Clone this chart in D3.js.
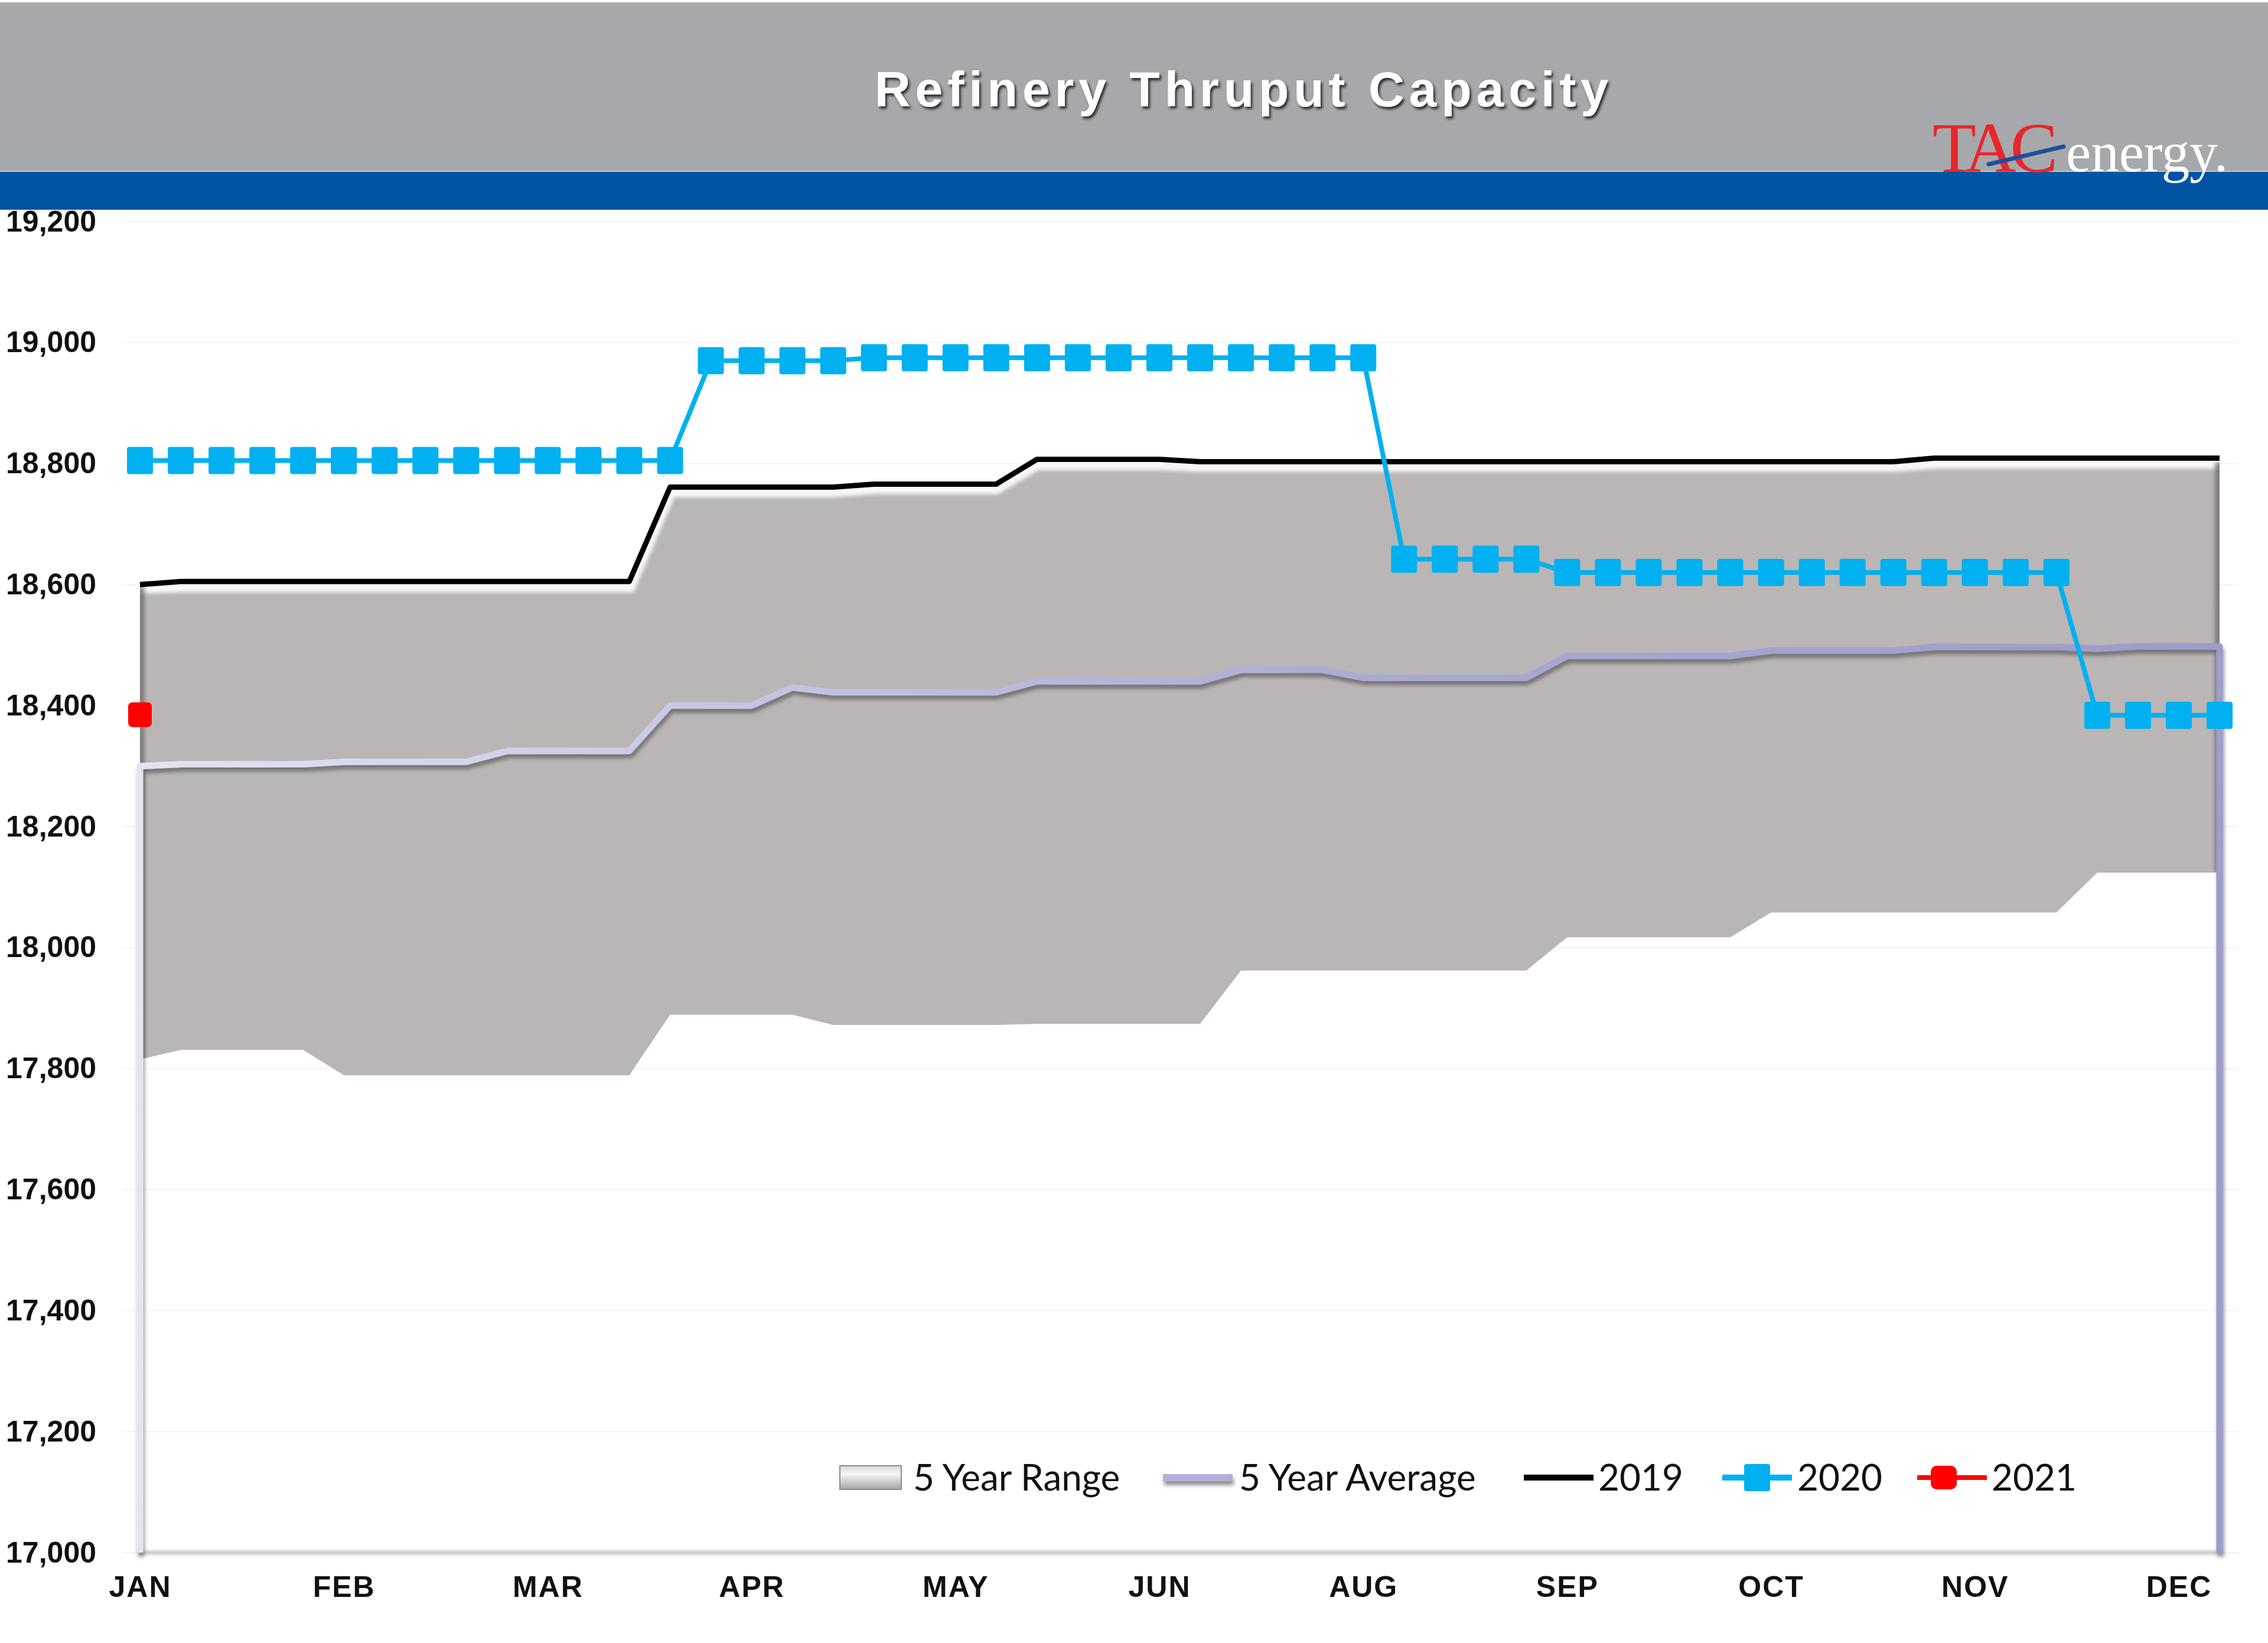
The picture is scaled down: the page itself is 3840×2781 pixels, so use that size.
<!DOCTYPE html>
<html><head><meta charset="utf-8">
<script src="https://cdn.jsdelivr.net/npm/d3@7"></script>
<style>html,body{margin:0;padding:0;background:#fff;} svg{display:block}</style>
</head><body>
<svg id="chart" width="3840" height="2781"></svg>
<script>
// ---------------- DATA ----------------
const weeks = [1,2,3,4,5,6,7,8,9,10,11,12,13,14,15,16,17,18,19,20,21,22,23,24,25,26,
               27,28,29,30,31,32,33,34,35,36,37,38,39,40,41,42,43,44,45,46,47,48,49,50,51,52];
const labelWeeks = [1,6,11,16,21,26,31,36,41,46,51];
const monthLabels = ["JAN","FEB","MAR","APR","MAY","JUN","AUG","SEP","OCT","NOV","DEC"];
const yTicks = [17000,17200,17400,17600,17800,18000,18200,18400,18600,18800,19000,19200];

const rangeLow = [17815,17831,17831,17831,17831,17789,17789,17789,17789,17789,17789,17789,17789,
                  17889,17889,17889,17889,17872,17872,17872,17872,17872,17874,17874,17874,17874,17874,
                  17962,17962,17962,17962,17962,17962,17962,17962,18017,18017,18017,18017,18017,
                  18058,18058,18058,18058,18058,18058,18058,18058,18124,18124,18124,18124];
const rangeHigh = [18596,18598,18598,18598,18598,18598,18598,18598,18598,18598,18598,18598,18598,
                   18755,18755,18755,18755,18755,18760,18760,18760,18760,18800,18800,18800,18800,
                   18797,18797,18797,18797,18797,18797,18797,18797,18797,18797,18797,18797,18797,18797,
                   18797,18797,18797,18797,18802,18802,18802,18802,18802,18802,18802,18802];
const avg5 = [18300,18303,18303,18303,18303,18307,18307,18307,18307,18325,18325,18325,18325,
              18400,18400,18400,18430,18422,18422,18422,18422,18422,18440,18440,18440,18440,18440,
              18459,18459,18459,18446,18446,18446,18446,18446,18482,18482,18482,18482,18482,
              18491,18491,18491,18491,18497,18497,18497,18497,18494,18498,18498,18498];
const series2019 = [18600,18605,18605,18605,18605,18605,18605,18605,18605,18605,18605,18605,18605,
                    18761,18761,18761,18761,18761,18766,18766,18766,18766,18807,18807,18807,18807,
                    18803,18803,18803,18803,18803,18803,18803,18803,18803,18803,18803,18803,18803,18803,
                    18803,18803,18803,18803,18809,18809,18809,18809,18809,18809,18809,18809];
const series2020 = [18805,18805,18805,18805,18805,18805,18805,18805,18805,18805,18805,18805,18805,18805,
                    18970,18970,18970,18970,18975,18975,18975,18975,18975,18975,18975,18975,18975,18975,
                    18975,18975,18975,18642,18642,18642,18642,18620,18620,18620,18620,18620,18620,18620,
                    18620,18620,18620,18620,18620,18620,18384,18384,18384,18384];
const series2021 = [18385];

const legendItems = ["5 Year Range","5 Year Average","2019","2020","2021"];

// ---------------- SETUP ----------------
const svg = d3.select("#chart");
const defs = svg.append("defs");
const x = d3.scalePoint().domain(weeks).range([237, 3758]);
const y = d3.scaleLinear().domain([17000, 19200]).range([2628, 375]);

function blur(id, sd){ defs.append("filter").attr("id",id).attr("filterUnits","userSpaceOnUse")
  .attr("x",0).attr("y",0).attr("width",3840).attr("height",2781)
  .append("feGaussianBlur").attr("stdDeviation",sd); }
blur("blur3",3); blur("blur2",2);
const ds = defs.append("filter").attr("id","avgShadow").attr("filterUnits","userSpaceOnUse")
  .attr("x",0).attr("y",0).attr("width",3840).attr("height",2781);
ds.append("feDropShadow").attr("dx",2).attr("dy",7).attr("stdDeviation",3).attr("flood-color","#4a4646").attr("flood-opacity",0.6);
const ts = defs.append("filter").attr("id","titleShadow").attr("x","-5%").attr("y","-30%").attr("width","110%").attr("height","160%");
ts.append("feDropShadow").attr("dx",3).attr("dy",4).attr("stdDeviation",2).attr("flood-color","#000").attr("flood-opacity",0.75);

const avgGrad = defs.append("linearGradient").attr("id","avgGrad").attr("gradientUnits","userSpaceOnUse")
  .attr("x1",x(weeks[0])-10).attr("x2",x(weeks[weeks.length-1])+10).attr("y1",0).attr("y2",0);
avgGrad.append("stop").attr("offset","0").attr("stop-color","#e4e4f3");
avgGrad.append("stop").attr("offset","0.3").attr("stop-color","#c4c4e2");
avgGrad.append("stop").attr("offset","0.6").attr("stop-color","#a9a9d5");
avgGrad.append("stop").attr("offset","1").attr("stop-color","#9c9ccd");

const swGrad = defs.append("linearGradient").attr("id","swGrad").attr("x1",0).attr("x2",0).attr("y1",0).attr("y2",1);
swGrad.append("stop").attr("offset","0").attr("stop-color","#d8d8d8");
swGrad.append("stop").attr("offset","0.35").attr("stop-color","#f6f6f6");
swGrad.append("stop").attr("offset","1").attr("stop-color","#a4a4a4");

const FONT_AX = "'Liberation Sans', Arial, sans-serif";

// gridlines (very faint)
svg.append("g").selectAll("line").data(yTicks).join("line")
  .attr("x1",207).attr("x2",3790).attr("y1",d=>y(d)).attr("y2",d=>y(d))
  .attr("stroke","#f3f3f3").attr("stroke-width",2);

// ---------------- RANGE BAND ----------------
const area = d3.area().x((d,i)=>x(weeks[i])).y0((d,i)=>y(rangeLow[i])).y1((d,i)=>y(rangeHigh[i]));
defs.append("clipPath").attr("id","bandClip").append("path").attr("d",area(weeks));
svg.append("path").attr("d",area(weeks)).attr("fill","#b9b6b5");
const bevel = svg.append("g").attr("clip-path","url(#bandClip)");
const topLine = d3.line().x((d,i)=>x(weeks[i])).y((d,i)=>y(rangeHigh[i]));
bevel.append("path").attr("d",topLine(weeks)).attr("fill","none").attr("stroke","#ffffff")
  .attr("stroke-width",22).attr("opacity",0.9).attr("filter","url(#blur3)");
const li = weeks.length-1;
[0, li].forEach(k=>{
  bevel.append("line").attr("x1",x(weeks[k])).attr("x2",x(weeks[k])).attr("y1",y(rangeHigh[k])).attr("y2",y(rangeLow[k]))
    .attr("stroke","#6c6a6a").attr("stroke-width",16).attr("opacity",0.75).attr("filter","url(#blur3)");
});

// bottom axis line (soft gray)
svg.append("line").attr("x1",x(weeks[0])).attr("x2",x(weeks[li])).attr("y1",y(17000)).attr("y2",y(17000))
  .attr("stroke","#c9c9c9").attr("stroke-width",7).attr("filter","url(#blur2)");

// ---------------- 5 YEAR AVERAGE ----------------
const yMin = y.domain()[0];
const avgPts = [{w:weeks[0], v:yMin}].concat(weeks.map((w,i)=>({w, v:avg5[i]})), [{w:weeks[li], v:yMin}]);
const avgLine = d3.line().x(d=>x(d.w)).y(d=>y(d.v));
svg.append("path").attr("d",avgLine(avgPts)).attr("fill","none").attr("stroke","url(#avgGrad)")
  .attr("stroke-width",11).attr("stroke-linejoin","round").attr("filter","url(#avgShadow)");

// ---------------- 2019 ----------------
const line = d3.line().x((d,i)=>x(weeks[i])).y(d=>y(d));
svg.append("path").attr("d",line(series2019)).attr("fill","none").attr("stroke","#000")
  .attr("stroke-width",9).attr("stroke-linejoin","round");

// ---------------- 2020 ----------------
const MW = 44, MH = 46;
svg.append("path").attr("d",line(series2020)).attr("fill","none").attr("stroke","#00b0f0").attr("stroke-width",8);
svg.append("g").selectAll("rect").data(series2020).join("rect")
  .attr("x",(d,i)=>x(weeks[i])-MW/2).attr("y",d=>y(d)-MH/2).attr("width",MW).attr("height",MH).attr("rx",4)
  .attr("fill","#00b0f0");

// ---------------- 2021 ----------------
svg.append("g").selectAll("rect").data(series2021).join("rect")
  .attr("x",(d,i)=>x(weeks[i])-MW/2+2).attr("y",d=>y(d)-MH/2+2).attr("width",MW-4).attr("height",MH-4).attr("rx",7)
  .attr("fill","#ff0000");

// ---------------- AXES ----------------
const yAxis = d3.axisLeft(y).tickValues(yTicks).tickSize(0).tickPadding(74).tickFormat(d3.format(","));
svg.append("g").attr("transform","translate(237,0)").call(yAxis)
  .call(g=>g.select(".domain").remove())
  .attr("font-family",FONT_AX).attr("font-weight","bold").attr("font-size",50)
  .call(g=>g.selectAll("text").attr("fill","#111"));

const xAxis = d3.axisBottom(x).tickValues(labelWeeks).tickSize(0).tickPadding(39)
  .tickFormat(d=>monthLabels[labelWeeks.indexOf(d)]);
svg.append("g").attr("transform",`translate(0,${y(17000)})`).call(xAxis)
  .call(g=>g.select(".domain").remove())
  .attr("font-family",FONT_AX).attr("font-weight","bold").attr("font-size",50)
  .call(g=>g.selectAll("text").attr("fill","#111").attr("letter-spacing",2));

// ---------------- LEGEND ----------------
const FONT_LG = "Lato, 'Noto Sans', sans-serif";
const lg = svg.append("g").attr("font-family",FONT_LG).attr("font-size",62).attr("fill","#111");
const lgBase = 2523, lgMid = 2501;
const swX = [1422, 1969, 2580, 2916, 3246];
const txX = [1546, 2098, 2706, 3043, 3372];
// range swatch
lg.append("rect").attr("x",swX[0]).attr("y",lgMid-20).attr("width",104).attr("height",40)
  .attr("fill","url(#swGrad)").attr("stroke","#8c8c8c").attr("stroke-width",2);
// avg swatch
lg.append("rect").attr("x",swX[1]).attr("y",lgMid-6).attr("width",118).attr("height",12)
  .attr("fill","#b0b0d8").attr("filter","url(#avgShadow)");
// 2019
lg.append("rect").attr("x",swX[2]).attr("y",lgMid-5).attr("width",118).attr("height",10).attr("fill","#000");
// 2020
lg.append("rect").attr("x",swX[3]).attr("y",lgMid-5).attr("width",118).attr("height",10).attr("fill","#00b0f0");
lg.append("rect").attr("x",swX[3]+59-MW/2).attr("y",lgMid-MH/2).attr("width",MW).attr("height",MH).attr("rx",4).attr("fill","#00b0f0");
// 2021
lg.append("rect").attr("x",swX[4]).attr("y",lgMid-4).attr("width",118).attr("height",8).attr("fill","#ff0000");
lg.append("rect").attr("x",swX[4]+45-MW/2).attr("y",lgMid-MH/2+3).attr("width",MW).attr("height",MH-6).attr("rx",10).attr("fill","#ff0000");
lg.selectAll("text.lt").data(legendItems).join("text").attr("class","lt")
  .attr("x",(d,i)=>txX[i]).attr("y",lgBase).text(d=>d);

// ---------------- HEADER ----------------
svg.append("rect").attr("x",0).attr("y",4).attr("width",3840).attr("height",288).attr("fill","#a6a8ab");
svg.append("rect").attr("x",0).attr("y",290).attr("width",3840).attr("height",65).attr("fill","#0054a4");
svg.append("line").attr("x1",0).attr("x2",3840).attr("y1",290).attr("y2",290).attr("stroke","#c9c0b8").attr("stroke-width",2);
svg.append("text").attr("x",2106).attr("y",180).attr("text-anchor","middle")
  .attr("font-family",FONT_AX).attr("font-weight","bold").attr("font-size",84).attr("letter-spacing",8)
  .attr("fill","#fff").attr("filter","url(#titleShadow)").text("Refinery Thruput Capacity");

// logo
const logo = svg.append("g").attr("font-family","'Liberation Serif', 'Times New Roman', serif");
logo.append("text").attr("x",3272).attr("y",291).attr("font-size",121).attr("letter-spacing",-10)
  .attr("fill","#e8262b").text("TAC");
logo.append("line").attr("x1",3367).attr("y1",278).attr("x2",3494).attr("y2",248)
  .attr("stroke","#1f4e9c").attr("stroke-width",7).attr("stroke-linecap","round");
logo.append("text").attr("x",3498).attr("y",290).attr("font-size",95).attr("fill","#ffffff").text("energy.");
</script>
</body></html>
